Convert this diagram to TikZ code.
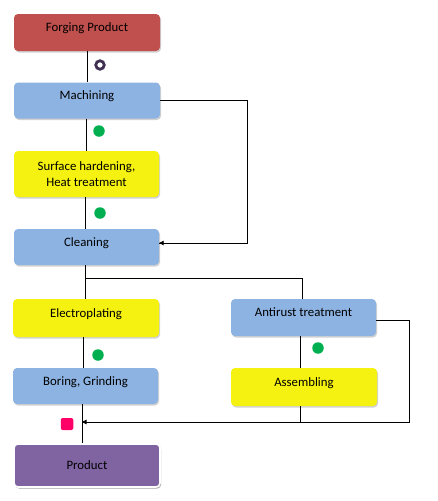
\documentclass[tikz,border=0pt]{standalone}
\usepackage{fontspec}
\setmainfont{Carlito}
\usetikzlibrary{shadows,arrows.meta}
\definecolor{cred}{RGB}{192,80,77}
\definecolor{cblue}{RGB}{141,179,226}
\definecolor{cyel}{RGB}{245,242,18}
\definecolor{cpurp}{RGB}{128,100,162}
\definecolor{cgreen}{RGB}{0,176,80}
\definecolor{cpink}{RGB}{255,0,102}
\definecolor{cdark}{RGB}{64,49,82}
\begin{document}
\begin{tikzpicture}[x=1pt,y=-1pt,
  font=\fontsize{12.8}{16}\selectfont,
  boxbase/.style={rectangle, rounded corners=4pt, inner sep=0pt, align=center,
    minimum width=146pt, minimum height=37pt,
    drop shadow={shadow xshift=1pt, shadow yshift=-1.5pt, fill=black!40, opacity=0.45}},
  onel/.style={boxbase, text height=4pt, text depth=5.36pt},
  conn/.style={line width=0.8pt, draw=black},
  arr/.style={conn, -{Triangle[length=4.5pt,width=4.5pt]}},
  gdot/.style={circle, fill=cgreen, minimum size=11.5pt, inner sep=0pt},
]
\useasboundingbox (0,0) rectangle (437,501);

% boxes
\node[onel, fill=cred] (forge) at (87,32.5) {Forging Product};
\node[onel, fill=cblue, minimum height=36pt] (mach) at (87,100.5) {Machining};
\node[boxbase, fill=cyel, minimum width=145pt, minimum height=46pt] (surf) at (86.5,174) {Surface hardening,\\Heat treatment};
\node[onel, fill=cblue, minimum width=145pt, minimum height=36pt] (clean) at (86.5,247) {Cleaning};
\node[onel, fill=cyel, minimum height=38pt] (elec) at (86,318) {Electroplating};
\node[onel, fill=cblue, minimum width=145pt] (anti) at (303.5,317.5) {Antirust treatment};
\node[onel, fill=cblue, minimum width=145pt, minimum height=36pt] (bor) at (85.5,386) {Boring, Grinding};
\node[onel, fill=cyel, minimum height=38pt] (asm) at (304,387) {Assembling};
\node[boxbase, fill=cpurp, draw=white, line width=1.6pt, minimum height=43pt,
  drop shadow={shadow xshift=1.2pt, shadow yshift=-1.5pt, fill=black!45, opacity=0.5},
  text height=8.24pt, text depth=0pt] (prod) at (87,465.5) {Product};

% markers
\node[circle, draw=cdark, line width=2.8pt, minimum size=8.5pt, inner sep=0pt] (mk1) at (100,65) {};
\node[gdot] (mk2) at (99,131) {};
\node[gdot] (mk3) at (100,213) {};
\node[gdot] (mk4) at (98,355) {};
\node[gdot] (mk5) at (318,348) {};
\node[rectangle, rounded corners=2pt, fill=cpink, minimum width=12.5pt, minimum height=12pt, inner sep=0pt] (mk6) at (67,424) {};

% coordinates
\coordinate (split) at (85,278);
\coordinate (mr) at (247,100.5);
\coordinate (ar) at (409,320);
\coordinate (merge) at (82,422);

% connectors
\draw[conn] (forge.south) -- (forge.south |- mach.north);
\draw[conn] ([xshift=-1pt]mach.south) -- ([xshift=-1pt]mach.south |- surf.north);
\draw[conn] ([xshift=-1.5pt]surf.south) -- ([xshift=-1.5pt]surf.south |- clean.north);
\draw[conn] (mach.east) -- (mr) |- ([yshift=4pt]clean.east);
\draw[arr] (mr |- 0,243) -- ([yshift=4pt]clean.east);
\draw[conn] (split |- clean.south) -- (split |- elec.north);
\draw[conn] (split) -| ([xshift=-1.5pt]anti.north);
\draw[conn] ([xshift=-3pt]elec.south) -- ([xshift=-3pt]elec.south |- bor.north);
\draw[conn] ([xshift=-3pt]anti.south) -- ([xshift=-3pt]anti.south |- asm.north);
\draw[conn] ([xshift=-3.5pt]bor.south) -- ([xshift=-3.5pt]bor.south |- prod.north);
\draw[conn] ([xshift=-3.5pt]asm.south) -- ([xshift=-3.5pt]asm.south |- merge);
\draw[conn] ([yshift=-2.5pt]anti.east) -- (ar) |- (merge);
\draw[arr] (300,422) -- (merge);
\end{tikzpicture}
\end{document}
